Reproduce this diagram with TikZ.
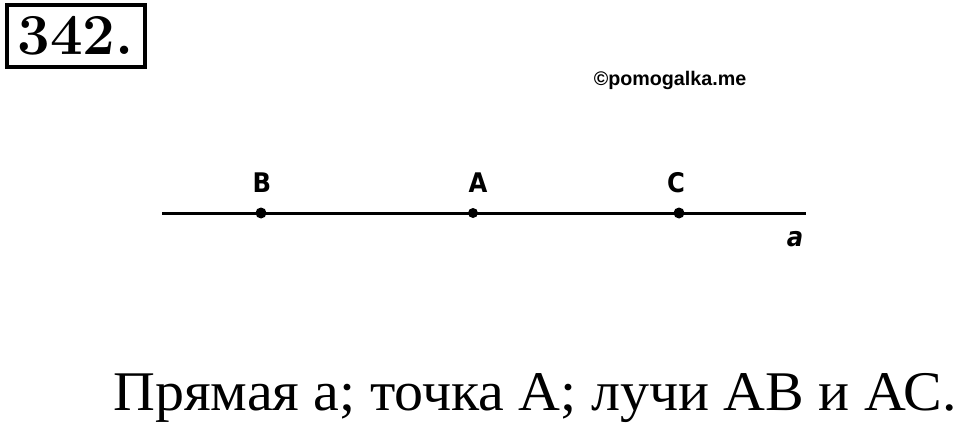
\documentclass[tikz,border=0pt]{standalone}
\usepackage{fontspec}
\setmainfont{Liberation Serif}
\newfontfamily\labelfont{DejaVu Sans Condensed}
\newfontfamily\markfont{Liberation Sans}
\newfontfamily\numfont{Latin Modern Roman}
\usepackage{tikz}

\begin{document}
\begin{tikzpicture}[x=1pt,y=-1pt,
    pt/.style={fill=black},
    ptlabel/.style={font=\labelfont\bfseries\fontsize{27}{27}\selectfont,inner sep=0pt}]
         \useasboundingbox (0,0) rectangle (960,425);
         % task number
         \node[draw,line width=4pt,inner sep=0pt,minimum width=138pt,minimum height=62pt,
               font=\numfont\bfseries\fontsize{58}{58}\selectfont] (num) at (75.5,36) {342.};
         \node[font=\markfont\bfseries\fontsize{19.7}{19.7}\selectfont,inner sep=0pt] (mark) at (670,80) {\textcopyright pomogalka.me};
         % line a
         \coordinate (left) at (162,213);
         \coordinate (right) at (806,213);
         \coordinate (B) at (261,213);
         \coordinate (A) at (473,213);
         \coordinate (C) at (679,213);
         \draw[line width=3pt] (left) -- (right);
         \begin{scope}[pt]
           \fill (B) circle (5.5pt);
           \fill (A) circle (5pt);
           \fill (C) circle (5.5pt);
         \end{scope}
         \node[ptlabel] (lB) at (262,183) {B};
         \node[ptlabel] (lA) at (478,183) {A};
         \node[ptlabel] (lC) at (676,183) {C};
         \node[ptlabel,font=\labelfont\bfseries\itshape\fontsize{27}{27}\selectfont] (la) at (795,239) {a};
         % caption
         \node[anchor=base west,inner sep=0pt,font=\fontsize{56}{56}\selectfont] (cap) at (113,410)
            {\scalebox{1.035}[1]{Прямая а; точка А; лучи АВ и АС.}};
      \end{tikzpicture}
\end{document}
